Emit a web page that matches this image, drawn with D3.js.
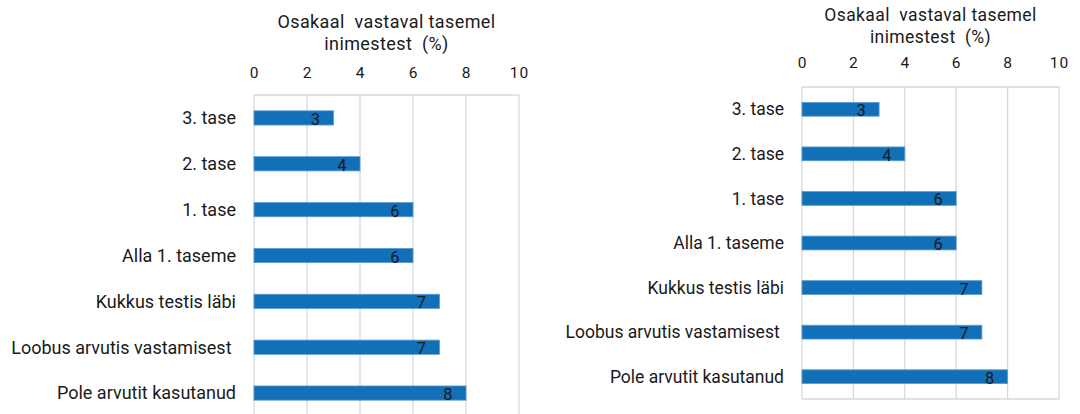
<!DOCTYPE html>
<html>

<head>
    <meta charset="utf-8">
    <title>
        Osakaal vastaval tasemel
    </title>
    <script src="https://cdn.jsdelivr.net/npm/d3@7"></script>
    <style>
        body { margin: 0; background: #fff; }
        text { font-family: Roboto, "Noto Sans", sans-serif; fill: #1a1a1a; }
    </style>
</head>

<body>
    <svg></svg>
    <script>
        const width = 1080;
        const height = 414;

        // data
        const categories = ["3. tase", "2. tase", "1. tase", "Alla 1. taseme",
            "Kukkus testis läbi", "Loobus arvutis vastamisest\u00a0", "Pole arvutit kasutanud"];
        const valuesLeft = [3, 4, 6, 6, 7, 7, 8];
        const valuesRight = [3, 4, 6, 6, 7, 7, 8];
        const tickValues = [0, 2, 4, 6, 8, 10];
        const titleLines = ["Osakaal  vastaval tasemel", "inimestest  (%)"];

        let svg = d3.select("svg")
            .attr("width", width)
            .attr("height", height);

        function drawPanel(values, p) {
            let g = svg.append("g");

            let xScale = d3.scaleLinear()
                .domain([0, 10])
                .range([p.left, p.right]);

            let yScale = d3.scaleBand()
                .domain(categories)
                .range([p.top, p.bottom])
                .paddingInner(0.69)
                .paddingOuter(0.345);

            // gridlines
            g.selectAll(".grid")
                .data(tickValues)
                .enter()
                .append("line")
                .attr("x1", (d) => xScale(d))
                .attr("x2", (d) => xScale(d))
                .attr("y1", p.top)
                .attr("y2", p.bottom)
                .attr("stroke", "#d9d9d9")
                .attr("stroke-width", 1.3);

            g.append("line")
                .attr("x1", p.left).attr("x2", p.right)
                .attr("y1", p.top).attr("y2", p.top)
                .attr("stroke", "#d9d9d9").attr("stroke-width", 1.3);
            g.append("line")
                .attr("x1", p.left).attr("x2", p.right)
                .attr("y1", p.bottom).attr("y2", p.bottom)
                .attr("stroke", "#d9d9d9").attr("stroke-width", 1.3);

            // top axis
            let xAxis = d3.axisTop(xScale)
                .tickValues(tickValues)
                .tickSize(0)
                .tickPadding(0);
            let ax = g.append("g")
                .attr("transform", "translate(0," + p.tickY + ")")
                .call(xAxis);
            ax.select(".domain").remove();
            ax.selectAll("text")
                .attr("font-size", 15.5)
                .attr("dy", "0.33em")
                .attr("letter-spacing", 1)
                .attr("fill", "#1a1a1a")
                .style("font-family", "Roboto");

            // title
            g.selectAll(".title")
                .data(titleLines)
                .enter()
                .append("text")
                .attr("x", (p.left + p.right) / 2)
                .attr("y", (d, i) => p.titleY + i * p.titleGap)
                .attr("text-anchor", "middle")
                .attr("font-size", p.titleSize)
                .attr("letter-spacing", 0.4)
                .style("white-space", "pre")
                .text((d) => d);

            // category labels
            g.selectAll(".cat")
                .data(categories)
                .enter()
                .append("text")
                .attr("x", p.left - 18)
                .attr("y", (d) => yScale(d) + yScale.bandwidth() / 2)
                .attr("text-anchor", "end")
                .attr("dy", "0.35em")
                .attr("font-size", p.catSize)
                .text((d) => d);

            // bars
            g.selectAll(".bar")
                .data(values)
                .enter()
                .append("rect")
                .attr("x", xScale(0))
                .attr("y", (d, i) => yScale(categories[i]))
                .attr("width", (d) => xScale(d) - xScale(0))
                .attr("height", yScale.bandwidth())
                .attr("fill", "#1170b8")
                .attr("stroke", "#5d9bd3")
                .attr("stroke-width", 0.8);

            // value labels
            g.selectAll(".val")
                .data(values)
                .enter()
                .append("text")
                .attr("x", (d) => xScale(d) - 18)
                .attr("y", (d, i) => yScale(categories[i]) + yScale.bandwidth() / 2 + 7)
                .attr("text-anchor", "middle")
                .attr("font-size", 16.5)
                .attr("fill", "#000")
                .text((d) => d);
        }

        drawPanel(valuesLeft, { left: 254, right: 519, top: 95, bottom: 416, tickY: 73, titleY: 27.7, titleGap: 22.3, titleSize: 18, catSize: 18 });
        drawPanel(valuesRight, { left: 802, right: 1059, top: 87, bottom: 399, tickY: 63, titleY: 20.7, titleGap: 22.3, titleSize: 17.5, catSize: 17.5 });
    </script>
</body>

</html>
